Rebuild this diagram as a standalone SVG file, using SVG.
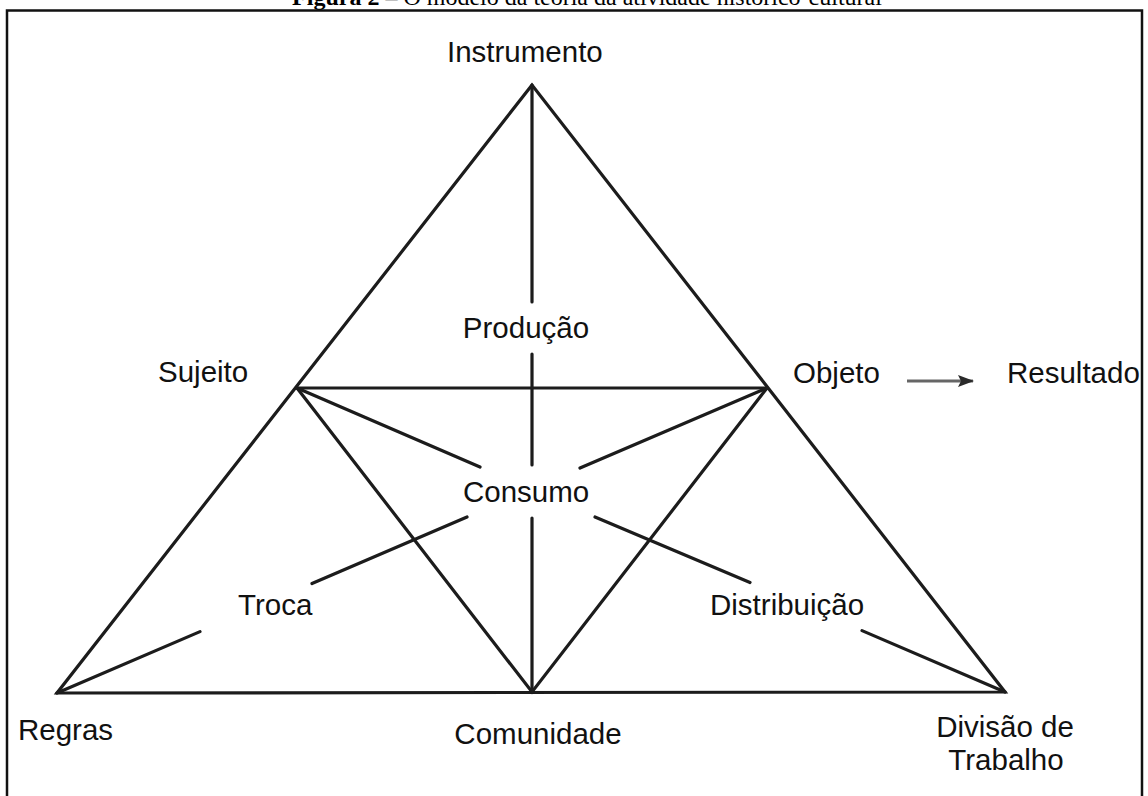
<svg xmlns="http://www.w3.org/2000/svg" width="1148" height="796" viewBox="0 0 1148 796">
<style>
.lbl{font-family:"Liberation Sans",Arial,sans-serif;font-size:29.5px;fill:#111}
.ln{stroke:#1c1c1c;stroke-width:3.2;fill:none;stroke-linecap:round}
.cap{font-family:"Liberation Serif","Times New Roman",serif;font-size:24px;fill:#000}
</style>
<defs>
<marker id="ah" markerWidth="16" markerHeight="12" refX="15" refY="6" orient="auto" markerUnits="userSpaceOnUse">
<path d="M0,0 L16,6 L0,12 L3,6 Z" fill="#2a2a2a"/>
</marker>
</defs>
<rect width="1148" height="796" fill="#fff"/>
<text class="cap" x="587" y="5" text-anchor="middle"><tspan font-weight="bold">Figura 2</tspan> – O modelo da teoria da atividade histórico-cultural</text>
<path d="M7,796 V10.5 H1142 V796" fill="none" stroke="#111" stroke-width="2.5"/>
<g id="connectors">
<path class="ln" d="M532,85 L57,693 L1005,692 Z"/>
<path class="ln" d="M297,388 L767,388"/>
<path class="ln" d="M297,388 L532,692 L767,388"/>
<path class="ln" d="M532,85 V302 M532,354 V465 M532,518 V692"/>
<path class="ln" d="M297,388 L480,467 M595,517 L750,582.5 M862,630.6 L1005,692"/>
<path class="ln" d="M767,388 L580,468 M467,517 L312,583.5 M200,631.6 L57,693"/>
<path d="M907,381 H973" stroke="#666" stroke-width="3" marker-end="url(#ah)"/>
</g>
<g id="instrumento"><text class="lbl" x="447" y="62">Instrumento</text></g>
<g id="producao"><text class="lbl" x="526" y="338" text-anchor="middle">Produção</text></g>
<g id="sujeito"><text class="lbl" x="158" y="382">Sujeito</text></g>
<g id="objeto"><text class="lbl" x="793" y="383">Objeto</text></g>
<g id="resultado"><text class="lbl" x="1007" y="383">Resultado</text></g>
<g id="consumo"><text class="lbl" x="463" y="502">Consumo</text></g>
<g id="troca"><text class="lbl" x="238" y="615">Troca</text></g>
<g id="distribuicao"><text class="lbl" x="710" y="615">Distribuição</text></g>
<g id="regras"><text class="lbl" x="18" y="740">Regras</text></g>
<g id="comunidade"><text class="lbl" x="538" y="744" text-anchor="middle">Comunidade</text></g>
<g id="divisao"><text class="lbl" x="1005" y="737" text-anchor="middle">Divisão de</text><text class="lbl" x="1006" y="770" text-anchor="middle">Trabalho</text></g>
</svg>
